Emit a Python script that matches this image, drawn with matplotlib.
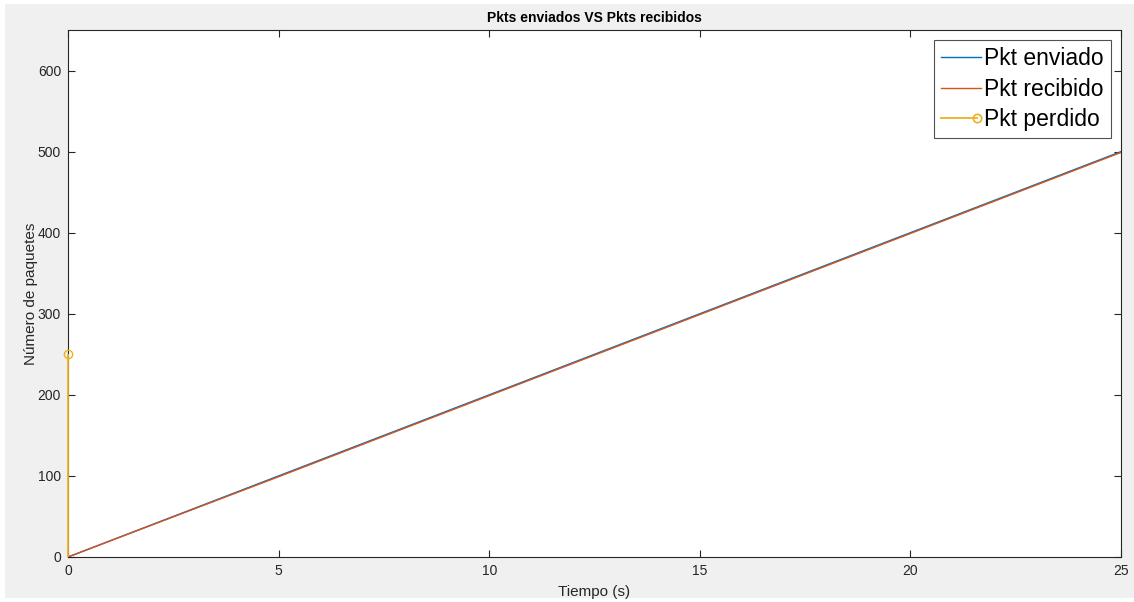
import matplotlib
matplotlib.use("Agg")
import matplotlib.pyplot as plt
from matplotlib.patches import Rectangle
from matplotlib.legend_handler import HandlerLine2D

# Packet counters over time
tiempo = [0, 5, 10, 15, 20, 25]
pkt_enviado = [0, 100, 200, 300, 400, 500]
pkt_recibido = [0, 99, 199, 299, 399, 499]

# Lost packets (time, packet number)
t_perdido = [0]
pkt_perdido = [250]

x_ticks = [0, 5, 10, 15, 20, 25]
y_ticks = [0, 100, 200, 300, 400, 500, 600]

BLUE = "#0072BD"
ORANGE = "#D95319"
YELLOW = "#EDB120"
TXT = "#262626"


class StemHandler(HandlerLine2D):
    """Legend entry with the marker at the right end of the line."""
    def create_artists(self, legend, orig_handle, xdescent, ydescent,
                       width, height, fontsize, trans):
        artists = super().create_artists(legend, orig_handle, xdescent, ydescent,
                                         width, height, fontsize, trans)
        line = artists[0]
        x = list(line.get_xdata())
        x[-1] = x[-1] - 3
        line.set_xdata(x)
        line.set_markevery([len(x) - 1])
        return artists


plt.rcParams["font.family"] = ["Liberation Sans", "DejaVu Sans"]

fig = plt.figure(figsize=(11.34, 6.02), dpi=100, facecolor="white")
# grey window panel
fig.patches.append(Rectangle((5 / 1134, 4 / 602), 1, 594 / 602,
                             transform=fig.transFigure, facecolor="#f0f0f0",
                             edgecolor="none", zorder=-10))

ax = fig.add_axes([68 / 1134, (602 - 557) / 602, (1121 - 68) / 1134, (557 - 30) / 602])
ax.set_facecolor("white")

ax.plot(tiempo, pkt_enviado, color=BLUE, linewidth=1, label="Pkt enviado")
ax.plot(tiempo, pkt_recibido, color=ORANGE, linewidth=1, label="Pkt recibido")
ml, sl, bl = ax.stem(t_perdido, pkt_perdido, basefmt=" ")
sl.set_color(YELLOW)
sl.set_linewidth(1.3)
sl.set_zorder(5)
sl.set_clip_on(False)
ml.set_color(YELLOW)
ml.set_markerfacecolor("none")
ml.set_markersize(6)
ml.set_markeredgewidth(1)
ml.set_clip_on(False)
ml.set_zorder(5)

# proxy for the legend entry of the stem series
stem_proxy, = ax.plot([], [], color=YELLOW, linewidth=1.3, marker="o",
                      markerfacecolor="none", markersize=6, markeredgewidth=1.2)

ax.set_xlim(0, 25)
ax.set_ylim(0, 650)
ax.set_xticks(x_ticks)
ax.set_yticks(y_ticks)
ax.tick_params(direction="in", top=True, right=True, length=5, width=0.8,
               colors=TXT, labelsize=10, labelcolor=TXT, pad=5)
for s in ax.spines.values():
    s.set_color(TXT)
    s.set_linewidth(0.8)
    s.set_zorder(2.5)

ax.set_xlabel("Tiempo (s)", fontsize=11, color=TXT, labelpad=5)
ax.set_ylabel("Número de paquetes", fontsize=11, color=TXT, labelpad=0)
ax.set_title("Pkts enviados VS Pkts recibidos", fontsize=10, fontweight="bold",
             color="black", pad=6)

handles, labels = ax.get_legend_handles_labels()
handles = handles[:2] + [stem_proxy]
labels = ["Pkt enviado", "Pkt recibido", "Pkt perdido"]
leg = ax.legend(handles, labels, loc="upper right", fontsize=16.5, frameon=True,
                fancybox=False, edgecolor=TXT, handlelength=1.75, handletextpad=0.15,
                borderpad=0.3, labelspacing=0.33, borderaxespad=0.45,
                handler_map={stem_proxy: StemHandler(numpoints=1)})
leg.get_frame().set_linewidth(0.8)

fig.savefig("out.png", dpi=100, facecolor=fig.get_facecolor())
